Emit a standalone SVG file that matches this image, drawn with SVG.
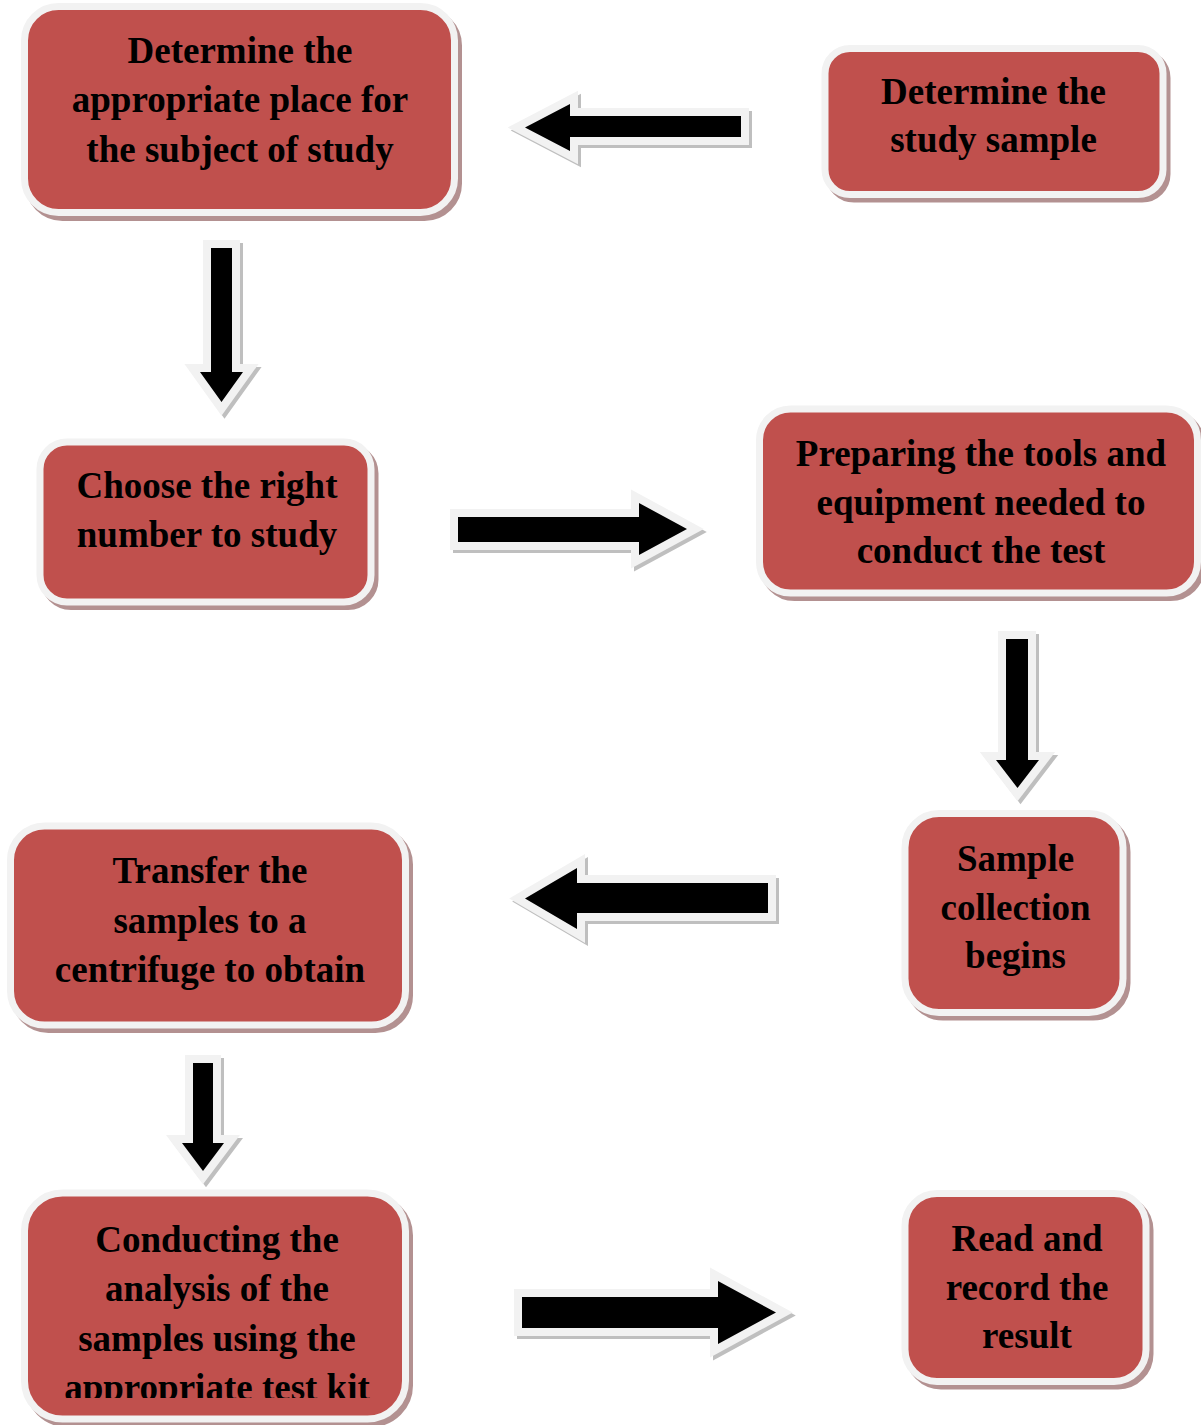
<svg xmlns="http://www.w3.org/2000/svg" xmlns:xlink="http://www.w3.org/1999/xlink" width="1201" height="1425" viewBox="0 0 1201 1425">
<style>
.box{fill:#C0504D;stroke:#F2F2F2;stroke-width:7}
.bsh{fill:#B39191;stroke:#B39191;stroke-width:7}
.t{font-family:"Liberation Serif","Times New Roman",serif;font-weight:bold;font-size:37px;fill:#000;text-anchor:middle}
.ash{fill:#BFBFBF;stroke:#BFBFBF;stroke-width:16;stroke-linejoin:miter;stroke-miterlimit:10}
.awh{fill:#F2F2F2;stroke:#F2F2F2;stroke-width:16;stroke-linejoin:miter;stroke-miterlimit:10}
.abk{fill:#000;stroke:none}
</style>
<defs>
<path id="a1" d="M741,116 L570,116 L570,104 L525,127.5 L570,151 L570,137 L741,137 Z"/>
<path id="a2" d="M211,248 L232,248 L232,372 L243,372 L221.5,402 L200,372 L211,372 Z"/>
<path id="a3" d="M458,517 L639,517 L639,503 L687,529 L639,555 L639,542 L458,542 Z"/>
<path id="a4" d="M1006,639 L1028,639 L1028,760 L1039,760 L1017.5,788 L996,760 L1006,760 Z"/>
<path id="a5" d="M768,883 L577,883 L577,868 L525,898.5 L577,929 L577,913 L768,913 Z"/>
<path id="a6" d="M193,1063 L213,1063 L213,1143 L224,1143 L203,1171 L182,1143 L193,1143 Z"/>
<path id="a7" d="M522,1297 L718,1297 L718,1281 L776,1312.5 L718,1344 L718,1328 L522,1328 Z"/>
<clipPath id="clip7"><rect x="0" y="1180" width="430" height="218"/></clipPath>
</defs>
<rect width="1201" height="1425" fill="#FFFFFF"/>

<g id="connectors">
<g id="arrow1"><use xlink:href="#a1" class="ash" transform="translate(3,3)"/><use xlink:href="#a1" class="awh"/><use xlink:href="#a1" class="abk"/></g>
<g id="arrow2"><use xlink:href="#a2" class="ash" transform="translate(3,3)"/><use xlink:href="#a2" class="awh"/><use xlink:href="#a2" class="abk"/></g>
<g id="arrow3"><use xlink:href="#a3" class="ash" transform="translate(3,3)"/><use xlink:href="#a3" class="awh"/><use xlink:href="#a3" class="abk"/></g>
<g id="arrow4"><use xlink:href="#a4" class="ash" transform="translate(3,3)"/><use xlink:href="#a4" class="awh"/><use xlink:href="#a4" class="abk"/></g>
<g id="arrow5"><use xlink:href="#a5" class="ash" transform="translate(3,3)"/><use xlink:href="#a5" class="awh"/><use xlink:href="#a5" class="abk"/></g>
<g id="arrow6"><use xlink:href="#a6" class="ash" transform="translate(3,3)"/><use xlink:href="#a6" class="awh"/><use xlink:href="#a6" class="abk"/></g>
<g id="arrow7"><use xlink:href="#a7" class="ash" transform="translate(3,3)"/><use xlink:href="#a7" class="awh"/><use xlink:href="#a7" class="abk"/></g>
</g>

<g id="node1">
<rect class="bsh" x="28.5" y="11.5" width="430" height="206" rx="34"/>
<rect class="box" x="24.5" y="6.5" width="430" height="206" rx="34"/>
<text class="t" x="240" y="63">Determine the</text>
<text class="t" x="240" y="112">appropriate place for</text>
<text class="t" x="240" y="162">the subject of study</text>
</g>

<g id="node2">
<rect class="bsh" x="829" y="53" width="338" height="146" rx="25"/>
<rect class="box" x="825" y="48.5" width="338" height="146" rx="25"/>
<text class="t" x="993.5" y="104">Determine the</text>
<text class="t" x="993.5" y="152">study sample</text>
</g>

<g id="node3">
<rect class="bsh" x="44" y="446.5" width="331" height="160" rx="27"/>
<rect class="box" x="40" y="442" width="331" height="160" rx="27"/>
<text class="t" x="207" y="498">Choose the right</text>
<text class="t" x="207" y="547">number to study</text>
</g>

<g id="node4">
<rect class="bsh" x="763.5" y="413.5" width="438" height="184" rx="31"/>
<rect class="box" x="759.5" y="409" width="438" height="184" rx="31"/>
<text class="t" x="981" y="466">Preparing the tools and</text>
<text class="t" x="981" y="515">equipment needed to</text>
<text class="t" x="981" y="563">conduct the test</text>
</g>

<g id="node5">
<rect class="bsh" x="909" y="818" width="218" height="199" rx="34"/>
<rect class="box" x="905" y="813.5" width="218" height="199" rx="34"/>
<text class="t" x="1015.5" y="871">Sample</text>
<text class="t" x="1015.5" y="920">collection</text>
<text class="t" x="1015.5" y="968">begins</text>
</g>

<g id="node6">
<rect class="bsh" x="14.5" y="830.5" width="395" height="199" rx="34"/>
<rect class="box" x="10.5" y="826" width="395" height="199" rx="34"/>
<text class="t" x="210" y="883">Transfer the</text>
<text class="t" x="210" y="933">samples to a</text>
<text class="t" x="210" y="982">centrifuge to obtain</text>
</g>

<g id="node7">
<rect class="bsh" x="28.5" y="1197.5" width="381" height="226" rx="38"/>
<rect class="box" x="24.5" y="1193" width="381" height="226" rx="38"/>
<g clip-path="url(#clip7)">
<text class="t" x="217" y="1252">Conducting the</text>
<text class="t" x="217" y="1301">analysis of the</text>
<text class="t" x="217" y="1351">samples using the</text>
<text class="t" x="217" y="1400">appropriate test kit</text>
</g>
</g>

<g id="node8">
<rect class="bsh" x="909" y="1198" width="241" height="188" rx="32"/>
<rect class="box" x="905" y="1193.5" width="241" height="188" rx="32"/>
<text class="t" x="1027" y="1251">Read and</text>
<text class="t" x="1027" y="1300">record the</text>
<text class="t" x="1027" y="1348">result</text>
</g>
</svg>
